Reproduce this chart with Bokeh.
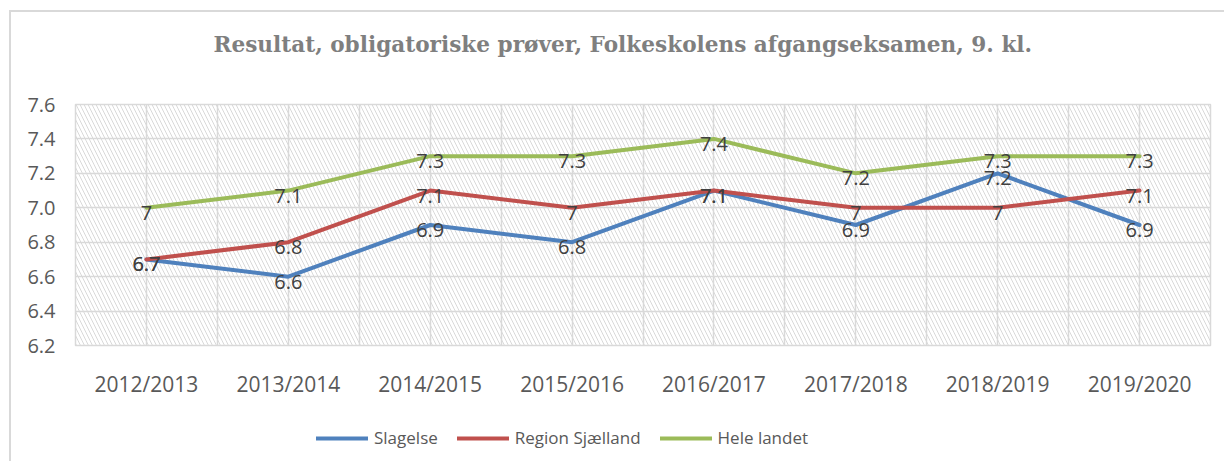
from bokeh.plotting import figure
from bokeh.layouts import column
from bokeh.models import (ColumnDataSource, Range1d, FixedTicker, Legend, LegendItem,
                          BoxAnnotation, PrintfTickFormatter, LabelSet, Title)
from bokeh.core.properties import value
from bokeh.embed import file_html
from bokeh.resources import INLINE

categories = ["2012/2013", "2013/2014", "2014/2015", "2015/2016",
              "2016/2017", "2017/2018", "2018/2019", "2019/2020"]
slagelse = [6.7, 6.6, 6.9, 6.8, 7.1, 6.9, 7.2, 6.9]
region = [6.7, 6.8, 7.1, 7.0, 7.1, 7.0, 7.0, 7.1]
hele = [7.0, 7.1, 7.3, 7.3, 7.4, 7.2, 7.3, 7.3]
series_names = ["Slagelse", "Region Sjælland", "Hele landet"]
series_values = [slagelse, region, hele]
colors = ["#4f81bd", "#c0504d", "#9bbb59"]
y_ticks = [6.2, 6.4, 6.6, 6.8, 7.0, 7.2, 7.4, 7.6]
title_text = "Resultat, obligatoriske prøver, Folkeskolens afgangseksamen, 9. kl."

n = len(categories)
xs = [i + 0.5 for i in range(n)]
border_color = "#d9d9d9"

p = figure(width=1213, height=388, x_range=Range1d(0, n),
           y_range=Range1d(y_ticks[0], y_ticks[-1]),
           output_backend="svg", toolbar_location=None, title=None,
           min_border_left=64, min_border_right=14, min_border_top=92,
           min_border_bottom=51)

# spacer between title and plot area, then the title itself
p.add_layout(Title(text=" ", text_font_size="28px"), "above")
p.add_layout(Title(text=title_text, align="left", offset=138,
                   text_font="DejaVu Serif", text_font_style="bold",
                   text_font_size="21.6px", text_color="#7f7f7f"), "above")

# hatched plot background
p.add_layout(BoxAnnotation(fill_alpha=0, line_alpha=0, hatch_pattern="\\",
                           hatch_color="#d9d9d9", hatch_scale=8, hatch_weight=1,
                           level="underlay"))

p.xgrid.ticker = FixedTicker(ticks=[i * 0.5 for i in range(2 * n + 1)])
p.ygrid.ticker = FixedTicker(ticks=y_ticks)
for g in (p.xgrid, p.ygrid):
    g.grid_line_color = border_color
    g.grid_line_width = 1.5
p.outline_line_color = border_color
p.outline_line_width = 1.5

p.xaxis.ticker = FixedTicker(ticks=xs)
p.xaxis.major_label_overrides = {x: c for x, c in zip(xs, categories)}
p.yaxis.ticker = FixedTicker(ticks=y_ticks)
p.yaxis.formatter = PrintfTickFormatter(format="%.1f")
for ax in (p.xaxis, p.yaxis):
    ax.axis_line_color = None
    ax.major_tick_line_color = None
    ax.minor_tick_line_color = None
    ax.major_label_text_font = "Open Sans"
    ax.major_label_text_color = "#595959"
p.xaxis.major_label_text_font_size = "21px"
p.yaxis.major_label_text_font_size = "20px"
p.xaxis.major_label_standoff = 18
p.yaxis.major_label_standoff = 14

for vals, col in zip(series_values, colors):
    p.line(xs, vals, line_width=4, line_color=col, line_cap="round", line_join="round")

for vals in series_values:
    src = ColumnDataSource(dict(x=xs, y=vals, t=[f"{v:g}" for v in vals]))
    p.add_layout(LabelSet(x="x", y="y", text="t", source=src, text_align="center",
                          text_baseline="middle", y_offset=-5,
                          text_font=value("Open Sans"), text_font_size="20px",
                          text_color="#404040"))

# legend strip below the chart
lg = figure(width=1213, height=61, x_range=Range1d(0, 1), y_range=Range1d(0, 1),
            output_backend="svg", toolbar_location=None,
            min_border_left=0, min_border_right=0, min_border_top=0, min_border_bottom=0)
lg.axis.visible = False
lg.grid.visible = False
lg.outline_line_color = None
items = []
for name, vals, col in zip(series_names, series_values, colors):
    r = lg.line(xs, vals, line_width=4, line_color=col, line_cap="round", visible=False)
    items.append(LegendItem(label=name, renderers=[r]))
legend = Legend(items=items, orientation="horizontal", location=(241, 12),
                glyph_width=52, glyph_height=20, label_standoff=6, spacing=19,
                label_text_font="Open Sans", label_text_font_size="17px",
                label_text_color="#595959", border_line_color=None,
                background_fill_alpha=0, inactive_fill_alpha=0,
                margin=0, padding=0)
lg.add_layout(legend, "center")

layout = column(p, lg, spacing=0,
                styles={"margin-left": "9px", "margin-top": "10px",
                        "border-left": f"2px solid {border_color}",
                        "border-top": f"2px solid {border_color}"})

open("out.html", "w").write(file_html(layout, INLINE))
